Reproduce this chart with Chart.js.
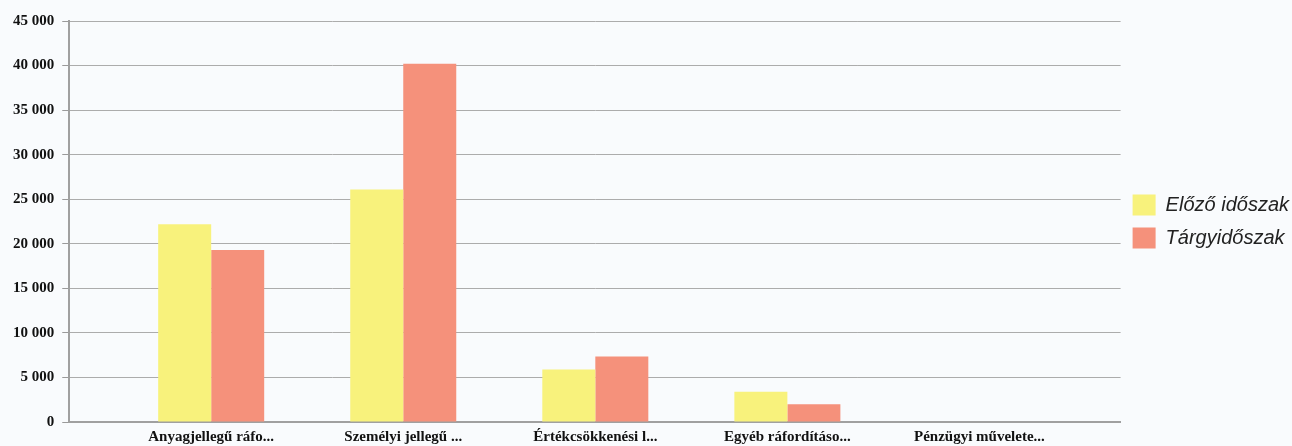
<!DOCTYPE html>
<html>
<head>
<meta charset="utf-8">
<script src="https://cdn.jsdelivr.net/npm/chart.js@4"></script>
<style>
  html, body { margin: 0; padding: 0; background: #f9fbfd; }
  #wrap { width: 1292px; height: 446px; }
</style>
</head>
<body>
<div id="wrap"><canvas id="c" width="1292" height="446"></canvas></div>
<script>
const categories = ["Anyagjellegű ráfo...", "Személyi jellegű ...", "Értékcsökkenési l...", "Egyéb ráfordításo...", "Pénzügyi művelete..."];
const seriesNames = ["Előző időszak", "Tárgyidőszak"];
const previousValues = [22200, 26100, 5900, 3400, 0];
const currentValues = [19300, 40200, 7350, 2000, 0];
const yTicks = [0, 5000, 10000, 15000, 20000, 25000, 30000, 35000, 40000, 45000];

function fmt(v) {
  return String(v).replace(/\B(?=(\d{3})+(?!\d))/g, " ");
}

const toPoints = arr => arr.map((v, i) => ({ x: i, y: v }));

new Chart(document.getElementById("c"), {
  type: "bar",
  data: {
    datasets: [
      { label: seriesNames[0], data: toPoints(previousValues), backgroundColor: "#f8f27c", borderWidth: 0 },
      { label: seriesNames[1], data: toPoints(currentValues), backgroundColor: "#f5917b", borderWidth: 0 }
    ]
  },
  options: {
    responsive: false,
    animation: false,
    devicePixelRatio: 1,
    layout: { padding: { top: 21, left: 5, right: -7, bottom: -6 } },
    datasets: { bar: { categoryPercentage: 0.552, barPercentage: 1.0 } },
    plugins: {
      title: { display: false },
      tooltip: { enabled: false },
      legend: {
        position: "right",
        align: "center",
        fullSize: false,
        labels: {
          boxWidth: 23,
          boxHeight: 21,
          padding: 12,
          color: "#222",
          font: { family: "'Liberation Sans', Arial, sans-serif", size: 20, style: "italic" }
        }
      }
    },
    scales: {
      x: {
        type: "linear",
        min: -0.739,
        max: 4.735,
        offset: false,
        grid: { display: false, drawTicks: false },
        border: { display: true, color: "#a0a0a0", width: 2 },
        afterBuildTicks: s => { s.ticks = categories.map((c, i) => ({ value: i })); },
        ticks: {
          autoSkip: false,
          maxRotation: 0,
          padding: 6,
          color: "#111",
          font: { family: "'Liberation Serif', 'Times New Roman', serif", size: 15, weight: "bold" },
          callback: v => {
            const i = Math.round(v);
            return Math.abs(v - i) < 1e-6 && categories[i] !== undefined ? categories[i] : "";
          }
        }
      },
      y: {
        min: 0,
        max: 45000,
        afterBuildTicks: s => { s.ticks = yTicks.map(v => ({ value: v })); },
        grid: { color: "#acacac", lineWidth: 1, tickLength: 7, tickColor: "#9a9a9a" },
        border: { display: true, color: "#a0a0a0", width: 2 },
        ticks: {
          padding: 8,
          color: "#111",
          font: { family: "'Liberation Serif', 'Times New Roman', serif", size: 15, weight: "bold" },
          callback: v => fmt(v)
        }
      }
    }
  }
});
</script>
</body>
</html>
